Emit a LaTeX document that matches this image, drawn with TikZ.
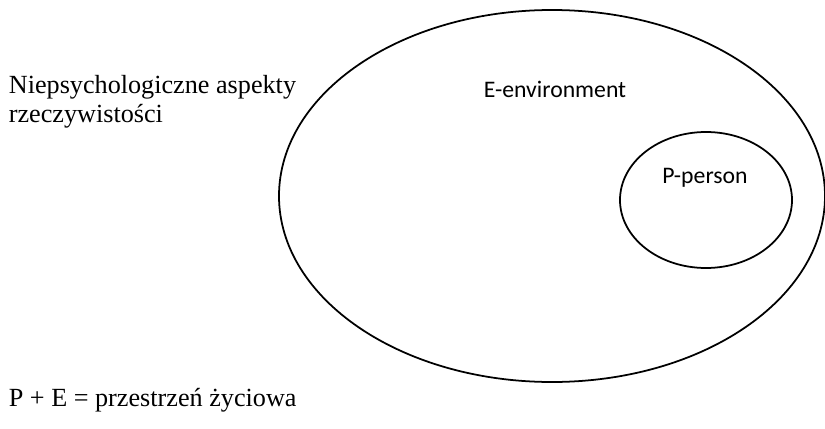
\documentclass[tikz,border=0pt]{standalone}
\usepackage{fontspec}
\setmainfont{Liberation Serif}
\newfontfamily\labelfont{Carlito}
\tikzset{
  serif text/.style={font=\fontsize{14.9}{16.5}\selectfont, inner sep=0pt},
  sans text/.style={font=\labelfont\fontsize{13.5}{16}\selectfont, inner sep=0pt}
}
\begin{document}
\begin{tikzpicture}[line width=1pt]
  \useasboundingbox (0,0) rectangle (16.500,8.560);
  \draw (11.040,4.640) ellipse [x radius=5.460, y radius=3.720];
  \draw (14.120,4.560) ellipse [x radius=1.720, y radius=1.360];
  \node[sans text, anchor=base] (env) at (11.100,6.620) {E-environment};
  \node[sans text, anchor=base] (person) at (14.100,4.900) {P-person};
  \node[serif text, anchor=base west, align=left] (aspects) at (0.160,6.120) {Niepsychologiczne aspekty\\rzeczywistości};
  \node[serif text, anchor=base west] (space) at (0.160,0.440) {P + E = przestrzeń życiowa};
\end{tikzpicture}
\end{document}
